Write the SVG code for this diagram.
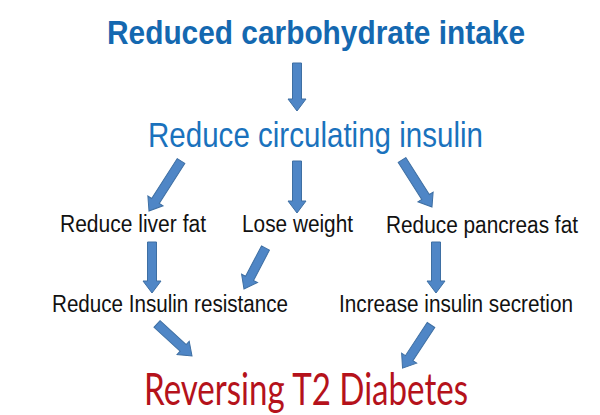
<svg xmlns="http://www.w3.org/2000/svg" width="600" height="415" viewBox="0 0 600 415">
<style>
.arrow{fill:#4f86c6;stroke:#3e6fa3;stroke-width:1;stroke-linejoin:miter}
.t1{font-family:"Liberation Sans",Arial,sans-serif;font-weight:bold;font-size:33px;fill:#1468b0}
.t2{font-family:"Liberation Sans",Arial,sans-serif;font-size:35px;fill:#1a72bd}
.t3{font-family:"Liberation Sans",Arial,sans-serif;font-size:23px;fill:#111111}
.t4{font-family:Lato,"Open Sans",sans-serif;font-size:45px;fill:#b5121b}
</style>
<rect width="600" height="415" fill="#ffffff"/>
<g id="connectors">
<path class="arrow" transform="translate(297,63) rotate(90)" d="M0,-4.5 H36 V-9 L48,0 L36,9 V4.5 H0 Z"/>
<path class="arrow" transform="translate(181,161) rotate(122.6)" d="M0,-4.5 H47.4 V-9 L59.4,0 L47.4,9 V4.5 H0 Z"/>
<path class="arrow" transform="translate(297,161) rotate(90)" d="M0,-4.5 H40 V-9 L52,0 L40,9 V4.5 H0 Z"/>
<path class="arrow" transform="translate(402,160) rotate(57.5)" d="M0,-4.5 H43.8 V-9 L55.8,0 L43.8,9 V4.5 H0 Z"/>
<path class="arrow" transform="translate(152,242) rotate(90)" d="M0,-4.5 H39 V-9 L51,0 L39,9 V4.5 H0 Z"/>
<path class="arrow" transform="translate(265.5,248) rotate(117.7)" d="M0,-4.5 H34.3 V-9 L46.3,0 L34.3,9 V4.5 H0 Z"/>
<path class="arrow" transform="translate(436,242) rotate(90)" d="M0,-4.5 H39 V-9 L51,0 L39,9 V4.5 H0 Z"/>
<path class="arrow" transform="translate(157,324) rotate(42.4)" d="M0,-4.5 H35.4 V-9 L47.4,0 L35.4,9 V4.5 H0 Z"/>
<path class="arrow" transform="translate(431,325) rotate(123.4)" d="M0,-4.5 H39.7 V-9 L51.7,0 L39.7,9 V4.5 H0 Z"/>
</g>
<g id="node-carb"><text class="t1" x="107" y="43.5" textLength="418" lengthAdjust="spacingAndGlyphs">Reduced carbohydrate intake</text></g>
<g id="node-insulin"><text class="t2" x="148" y="146.5" textLength="335" lengthAdjust="spacingAndGlyphs">Reduce circulating insulin</text></g>
<g id="node-liver"><text class="t3" x="60" y="232" textLength="146" lengthAdjust="spacingAndGlyphs">Reduce liver fat</text></g>
<g id="node-weight"><text class="t3" x="242" y="232" textLength="111" lengthAdjust="spacingAndGlyphs">Lose weight</text></g>
<g id="node-pancreas"><text class="t3" x="386" y="232.5" textLength="192" lengthAdjust="spacingAndGlyphs">Reduce pancreas fat</text></g>
<g id="node-resistance"><text class="t3" x="52" y="312" textLength="236" lengthAdjust="spacingAndGlyphs">Reduce Insulin resistance</text></g>
<g id="node-secretion"><text class="t3" x="339" y="312" textLength="234" lengthAdjust="spacingAndGlyphs">Increase insulin secretion</text></g>
<g id="node-reversing"><text class="t4" x="144" y="405" textLength="324" lengthAdjust="spacingAndGlyphs">Reversing T2 Diabetes</text></g>
</svg>
